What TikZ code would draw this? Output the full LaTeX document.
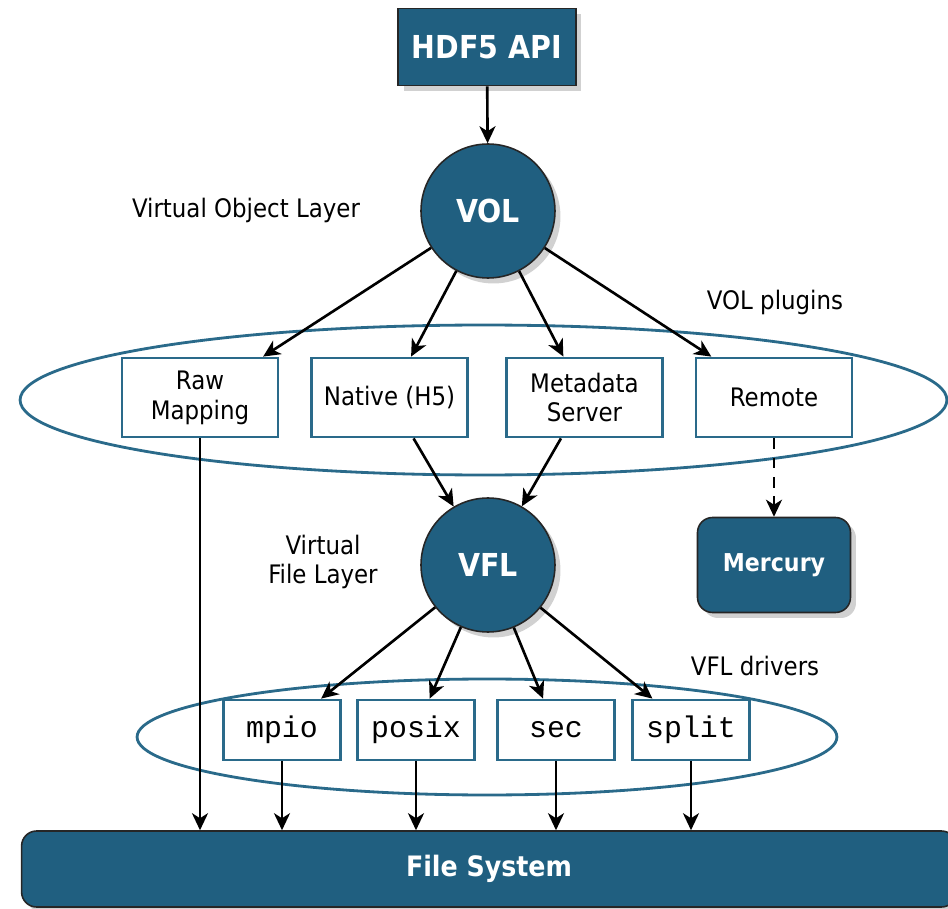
\documentclass[tikz,border=0pt]{standalone}
\usepackage{fontspec}
\setmainfont{DejaVu Sans Condensed}
\setmonofont{Liberation Mono}
\usepackage{tikz}
\usetikzlibrary{positioning, arrows.meta, shapes, shadows}
\usepackage{xcolor}
\definecolor{hdfblue}{HTML}{205F80}
\definecolor{hdfline}{HTML}{2A6A8A}

\begin{document}
\begin{tikzpicture}[x=0.02cm, y=-0.02cm,
    arr/.style={-{Stealth[length=0.34cm, width=0.32cm, inset=0.1cm]}, line width=1.5pt},
    shadowed/.style={drop shadow={shadow xshift=0.11cm, shadow yshift=-0.11cm, fill=black!18, opacity=1}},
    darkbox/.style={draw=black!85, fill=hdfblue, text=white, line width=0.9pt, shadowed, font=\bfseries\fontsize{18}{20}\selectfont},
    layer/.style={circle, darkbox, minimum size=2.68cm},
    plugin/.style={draw=hdfline, line width=1.6pt, rectangle, minimum width=3.12cm, minimum height=1.58cm, align=center, font=\fontsize{14.5}{17}\selectfont},
    driver/.style={draw=hdfline, line width=1.6pt, rectangle, minimum width=2.34cm, minimum height=1.2cm, font=\ttfamily\fontsize{17}{19}\selectfont},
    group/.style={draw=hdfline, line width=1.6pt, ellipse},
    lbl/.style={align=center, font=\fontsize{14.5}{17}\selectfont}]
  \useasboundingbox (0,0) rectangle (948,909);

  % VOL plugins ring
  \node[group, minimum width=18.54cm, minimum height=3cm] (volring) at (483.5,400) {};
  % VFL drivers ring
  \node[group, minimum width=14cm, minimum height=2.32cm] (vflring) at (487,737) {};

  % API
  \node[darkbox, rectangle, minimum width=3.56cm, minimum height=1.54cm] (api) at (487,47) {HDF5 API};

  % Virtual Object Layer
  \node[layer] (vol) at (488,211) {VOL};
  \node[lbl] (vollbl) at (246,210) {Virtual Object Layer};
  \node[lbl] (plugins) at (775,302) {VOL plugins};

  % Plugins
  \node[plugin] (raw) at (200,397.5) {Raw\\Mapping};
  \node[plugin] (native) at (389.5,397.5) {Native (H5)};
  \node[plugin] (meta) at (584.5,397.5) {Metadata\\Server};
  \node[plugin] (remote) at (774,397.5) {Remote};

  % Mercury
  \node[darkbox, rectangle, rounded corners=0.3cm, minimum width=3.06cm, minimum height=1.9cm,
        font=\bfseries\fontsize{14}{16}\selectfont] (mercury) at (774,565) {Mercury};

  % Virtual File Layer
  \node[layer] (vfl) at (488,565) {VFL};
  \node[lbl] (vfllbl) at (323,562) {Virtual\\File Layer};
  \node[lbl] (drivers) at (755,666) {VFL drivers};

  % Drivers
  \node[driver] (mpio) at (282,730) {mpio};
  \node[driver] (posix) at (416,730) {posix};
  \node[driver] (sec) at (556,730) {sec};
  \node[driver] (split) at (691,730) {split};

  % File System
  \node[darkbox, rectangle, rounded corners=0.3cm, minimum width=18.7cm, minimum height=1.52cm,
        font=\bfseries\fontsize{16}{18}\selectfont] (fs) at (489,869) {File System};

  % Relationships
  \draw[arr] (api) -- (vol);
  \foreach \p in {raw, native, meta, remote}
    \draw[arr] (vol) -- (\p);
  \draw[arr, dashed, dash pattern=on 6pt off 5pt] (remote) -- (mercury);
  \draw[arr] (native) -- (vfl);
  \draw[arr] (meta) -- (vfl);
  \foreach \d in {mpio, posix, sec, split} {
    \draw[arr] (vfl) -- (\d);
    \draw[arr] (\d) -- (\d |- fs.north);
  }
  \draw[arr] (raw) -- (raw |- fs.north);
\end{tikzpicture}
\end{document}
